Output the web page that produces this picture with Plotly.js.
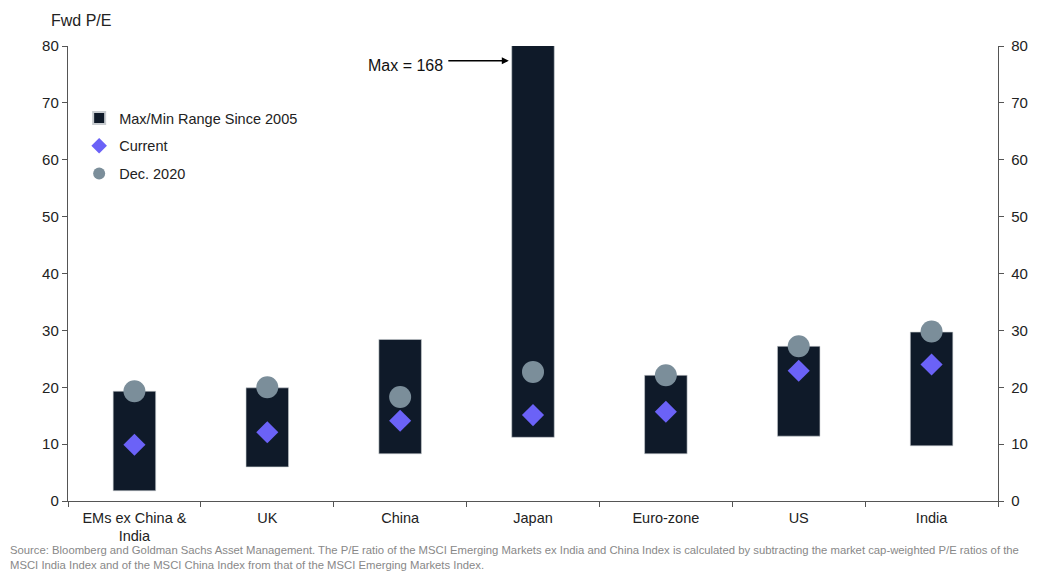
<!DOCTYPE html>
<html>
<head>
<meta charset="utf-8">
<script src="https://cdn.plot.ly/plotly-3.0.1.min.js"></script>
<style>html,body{margin:0;padding:0;background:#fff;}#chart{width:1057px;height:571px;}</style>
</head>
<body>
<div id="chart"></div>
<script>
const categories = ["EMs ex China &<br>India", "UK", "China", "Japan", "Euro-zone", "US", "India"];
const rangeMin = [1.8, 6.0, 8.3, 11.2, 8.3, 11.4, 9.7];
const rangeMax = [19.3, 19.9, 28.4, 168, 22.1, 27.2, 29.7];
const current = [9.9, 12.1, 14.1, 15.1, 15.7, 22.9, 24.0];
const dec2020 = [19.3, 20.0, 18.3, 22.7, 22.1, 27.2, 29.8];
const yTicks = [0, 10, 20, 30, 40, 50, 60, 70, 80];

const font = "Liberation Sans, Arial, sans-serif";

const traces = [
  {
    type: "bar", name: "Max/Min Range Since 2005", legendgroup: "a",
    x: categories, base: rangeMin,
    y: rangeMax.map((v, i) => v - rangeMin[i]),
    marker: {color: "#0f1a29", line: {color: "#c8ccd0", width: 0.6}},
    width: 0.32, hoverinfo: "skip"
  },
  {
    type: "scatter", mode: "markers", name: "Current", legendgroup: "b",
    x: categories, y: current,
    marker: {symbol: "diamond", size: 17, color: "#6b62f7"}
  },
  {
    type: "scatter", mode: "markers", name: "Dec. 2020", legendgroup: "c",
    x: categories, y: dec2020,
    marker: {symbol: "circle", size: 22, color: "#7b8e9a"}
  },
  {
    type: "scatter", mode: "markers", x: categories, y: dec2020, yaxis: "y2",
    marker: {opacity: 0}, showlegend: false, hoverinfo: "skip"
  }
];

const axisFont = {family: font, size: 15, color: "#222"};

const layout = {
  width: 1057, height: 571,
  margin: {l: 68, r: 59, t: 46, b: 70},
  paper_bgcolor: "#fff", plot_bgcolor: "#fff",
  font: {family: font, size: 14, color: "#222"},
  showlegend: true,
  legend: {x: 0.012, y: 0.877, xanchor: "left", yanchor: "top",
           bgcolor: "rgba(0,0,0,0)", font: {family: font, size: 14.5, color: "#222"},
           traceorder: "grouped", tracegroupgap: 6, itemsizing: "constant", itemwidth: 30},
  xaxis: {
    type: "category", showline: true, linecolor: "#555", linewidth: 1.2,
    ticks: "outside", tickson: "boundaries", ticklen: 5, tickcolor: "#555",
    tickfont: {family: font, size: 14.5, color: "#222"}, ticklabelstandoff: 3,
    showgrid: false, zeroline: false
  },
  yaxis: {
    range: [0, 80], tickvals: yTicks, showline: true, linecolor: "#555", linewidth: 1.2,
    ticks: "outside", ticklen: 5, tickcolor: "#555", tickfont: axisFont,
    showgrid: false, zeroline: false
  },
  yaxis2: {
    range: [0, 80], tickvals: yTicks, overlaying: "y", side: "right",
    showline: true, linecolor: "#555", linewidth: 1.2,
    ticks: "outside", ticklen: 5, tickcolor: "#555", tickfont: axisFont, ticklabelstandoff: 4,
    showgrid: false, zeroline: false
  },
  annotations: [
    {xref: "paper", yref: "paper", x: -0.02, y: 1.033, xanchor: "left", yanchor: "bottom",
     text: "Fwd P/E", showarrow: false, font: {family: font, size: 16, color: "#222"}},
    {xref: "paper", yref: "y", x: 0.4055, y: 76.5, xanchor: "right", yanchor: "middle", text: "Max = 168",
     showarrow: false, font: {family: font, size: 16, color: "#111"}},
    {xref: "paper", yref: "y", x: 0.474, y: 77.4, text: "",
     showarrow: true, ax: -62, ay: 0, arrowhead: 2, arrowsize: 1, arrowwidth: 1.4,
     arrowcolor: "#000"},
    {xref: "paper", yref: "paper", x: -0.064, y: -0.09, xanchor: "left", yanchor: "top", align: "left",
     showarrow: false,
     text: "Source: Bloomberg and Goldman Sachs Asset Management. The P/E ratio of the MSCI Emerging Markets ex India and China Index is calculated by subtracting the market cap-weighted P/E ratios of the<br>MSCI India Index and of the MSCI China Index from that of the MSCI Emerging Markets Index.",
     font: {family: font, size: 11.3, color: "#888"}}
  ]
};

Plotly.newPlot("chart", traces, layout, {displayModeBar: false, staticPlot: true});
</script>
</body>
</html>
